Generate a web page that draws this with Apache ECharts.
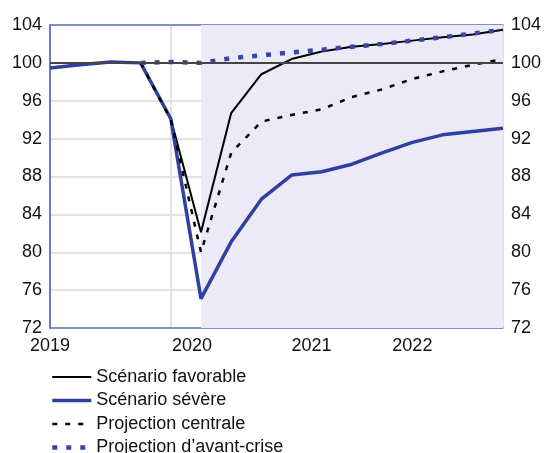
<!DOCTYPE html>
<html>
<head>
<meta charset="utf-8">
<script src="https://cdn.jsdelivr.net/npm/echarts@6/dist/echarts.min.js"></script>
<style>
  html, body { margin: 0; padding: 0; background: #fff; }
  #main { width: 544px; height: 453px; }
</style>
</head>
<body>
<div id="main"></div>
<script>
// trimestres 2019T1 .. 2022T4
var quarters = ['2019T1', '2019T2', '2019T3', '2019T4', '2020T1', '2020T2', '2020T3', '2020T4',
	'2021T1', '2021T2', '2021T3', '2021T4', '2022T1', '2022T2', '2022T3', '2022T4'];
var favorable = [null, null, null, 100.0, 94.1, 82.1, 94.7, 98.8, 100.4, 101.2, 101.7, 102.0, 102.35, 102.7, 103.0, 103.5];
var severe = [99.45, 99.8, 100.1, 100.0, 94.1, 75.1, 81.1, 85.6, 88.15, 88.5, 89.3, 90.5, 91.6, 92.4, 92.75, 93.1];
var central = [null, null, null, 100.0, 94.0, 80.0, 90.5, 93.8, 94.5, 95.1, 96.4, 97.2, 98.3, 99.1, 99.8, 100.4];
var preCrisis = [null, null, null, 100.0, 100.1, 100.0, 100.5, 100.8, 101.1, 101.4, 101.7, 102.0, 102.35, 102.7, 103.1, 103.5];
var yearLabels = ['2019', '2020', '2021', '2022'];
var yearLabelAt = [0, 4.7, 8.66, 12];   // position des libellés (en trimestres)
var projStart = 5;                       // début de la zone ombrée

function pairs(arr) {
	return arr.map(function (v, i) { return [i, v]; });
}

var font = 'Liberation Sans, Arial, sans-serif';
var frame = { show: true, lineStyle: { color: '#6573c4', width: 1.5 } };
var chart = echarts.init(document.getElementById('main'));

var option = {
	animation: false,
	textStyle: { fontFamily: font },
	grid: { left: 50, right: 39, top: 25, bottom: 125 },
	legend: {
		orient: 'vertical',
		left: 50, top: 368,
		width: 400, height: 120,
		padding: 0,
		itemWidth: 39,
		itemHeight: 12,
		itemGap: 5.5,
		itemStyle: { opacity: 0 },
		lineStyle: { width: 'inherit' },
		textStyle: { fontSize: 18, color: '#111', fontFamily: font },
		data: ['Scénario favorable', 'Scénario sévère', 'Projection centrale', 'Projection d’avant-crise']
	},
	xAxis: [{
		type: 'value',
		min: 0, max: quarters.length - 1,
		interval: 4,
		axisLine: frame,
		axisTick: { show: false },
		splitLine: { show: true, lineStyle: { color: '#d9d9d9', width: 1.5 } },
		axisLabel: {
			customValues: yearLabelAt,
			formatter: function (v) {
				var i = yearLabelAt.indexOf(v);
				return i >= 0 ? yearLabels[i] : '';
			},
			fontSize: 18, color: '#111', margin: 9
		}
	}, {
		type: 'value', position: 'top',
		min: 0, max: quarters.length - 1,
		axisLine: frame, axisTick: { show: false },
		axisLabel: { show: false }, splitLine: { show: false }
	}],
	yAxis: [{
		type: 'value', min: 72, max: 104, interval: 4, position: 'left',
		axisLine: frame, axisTick: { show: false },
		splitLine: { show: true, lineStyle: { color: '#d9d9d9', width: 1.5 } },
		axisLabel: { fontSize: 18, color: '#111', margin: 8 }
	}, {
		type: 'value', min: 72, max: 104, interval: 4, position: 'right',
		axisLine: frame, axisTick: { show: false },
		splitLine: { show: false },
		axisLabel: { fontSize: 18, color: '#111', margin: 8 }
	}],
	series: [{
		name: 'ombre', type: 'line', data: [], z: -1, silent: true,
		markArea: {
			silent: true,
			itemStyle: { color: '#ebeaf6' },
			data: [[{ xAxis: projStart }, { xAxis: quarters.length - 1 }]]
		}
	}, {
		name: 'base100', type: 'line', data: [], z: 1, silent: true,
		markLine: {
			silent: true, symbol: 'none', label: { show: false },
			lineStyle: { color: '#444', width: 2, type: 'solid' },
			data: [{ yAxis: 100 }]
		}
	}, {
		name: 'Scénario favorable', type: 'line', data: pairs(favorable),
		symbol: 'none',
		lineStyle: { color: '#000', width: 2 },
		itemStyle: { color: '#000' }
	}, {
		name: 'Scénario sévère', type: 'line', data: pairs(severe),
		symbol: 'none',
		lineStyle: { color: '#3040a0', width: 3.5 },
		itemStyle: { color: '#3040a0' }
	}, {
		name: 'Projection centrale', type: 'line', data: pairs(central),
		symbol: 'none',
		lineStyle: { color: '#000', width: 2.5, type: [5, 8] },
		itemStyle: { color: '#000' }
	}, {
		name: 'Projection d’avant-crise', type: 'line', data: pairs(preCrisis),
		symbol: 'none',
		lineStyle: { color: '#3646a8', width: 4.5, type: [5, 9] },
		itemStyle: { color: '#3646a8' }
	}]
};

chart.setOption(option);
</script>
</body>
</html>
